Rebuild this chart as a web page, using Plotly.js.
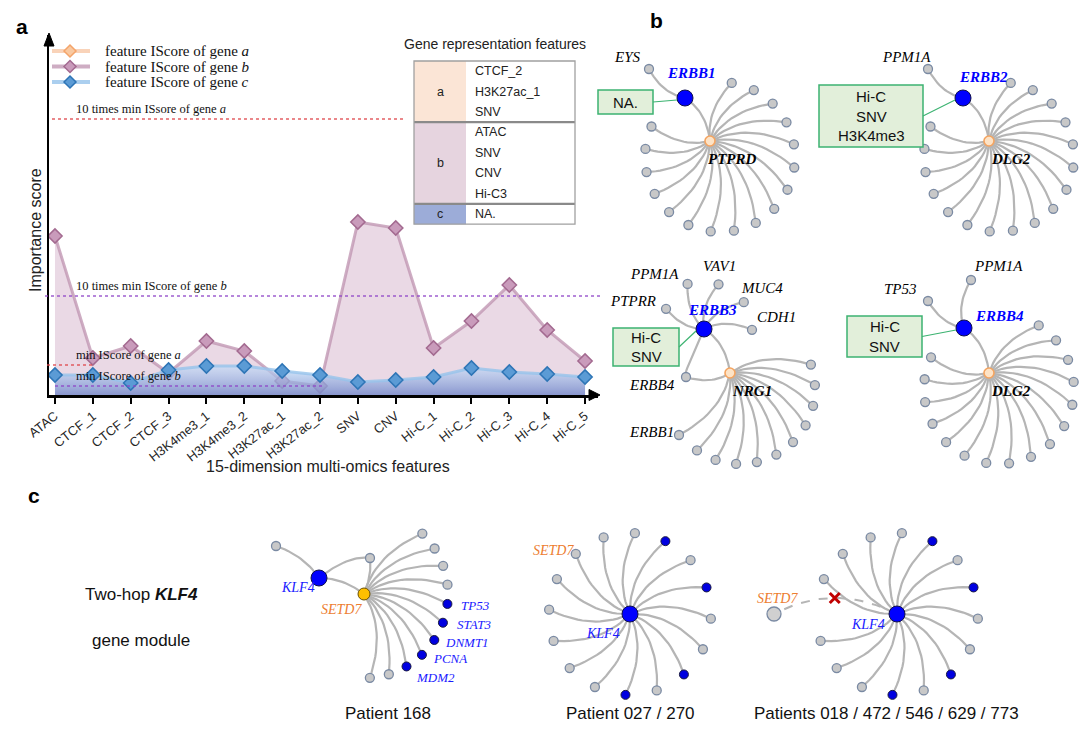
<!DOCTYPE html>
<html><head><meta charset="utf-8">
<script src="https://cdn.plot.ly/plotly-3.0.1.min.js"></script>
<style>body{margin:0;background:#fff}</style>
</head><body><div id="chart" style="width:1080px;height:733px"></div>
<script>
// ================= DATA =================
const features = ['ATAC','CTCF_1','CTCF_2','CTCF_3','H3K4me3_1','H3K4me3_2','H3K27ac_1','H3K27ac_2','SNV','CNV','Hi-C_1','Hi-C_2','Hi-C_3','Hi-C_4','Hi-C_5'];
const seriesNames = ['feature IScore of gene <i>a</i>','feature IScore of gene <i>b</i>','feature IScore of gene <i>c</i>'];
const scoreGeneB = [1.59,0.37,0.49,0.22,0.54,0.44,0.14,0.09,1.73,1.67,0.47,0.74,1.10,0.65,0.34];
const scoreGeneC = [0.20,0.20,0.12,0.25,0.29,0.29,0.24,0.20,0.13,0.15,0.18,0.27,0.23,0.21,0.18];
const minScoreA = 0.30, tenMinScoreA = 2.76, minScoreB = 0.09, tenMinScoreB = 0.99;

const groupNames = ['a','b','c'];
const groupFeatures = [['CTCF_2','H3K27ac_1','SNV'],['ATAC','SNV','CNV','Hi-C3'],['NA.']];

const bHubGenes = ['PTPRD','DLG2','NRG1','DLG2'];
const bKeyGenes = ['ERBB1','ERBB2','ERBB3','ERBB4'];
const bKeyFeatures = [['NA.'],['Hi-C','SNV','H3K4me3'],['Hi-C','SNV'],['Hi-C','SNV']];
const bKeyNeighbors = [['EYS'],['PPM1A'],['PTPRR','PPM1A','VAV1','MUC4','CDH1'],['TP53','PPM1A']];
const bHubNamedLeaves = [[],[],['ERBB4','ERBB1'],[]];
const bHubLeafCount = [17,17,10,16];

const cTitle = ['Two-hop ', 'KLF4', 'gene module'];
const cPatients = ['Patient 168','Patient 027 / 270','Patients 018 / 472 / 546 / 629 / 773'];
const cHubGene = 'KLF4', cLinkGene = 'SETD7';
const c168SetdLeaves = ['','','','','TP53','STAT3','DNMT1','PCNA','MDM2','',''];
const c027Leaves = ['','','T','','T','','','T','','T','','','','','','SETD7'];
const c018Leaves = ['','','T','','T','','','T','','T','','','','-','',''];

// ================= LAYOUT HELPERS =================
const W=1080,H=733;
const shapes=[], annotations=[], traces=[];
const serif='Liberation Serif, Times New Roman, serif', sans='Arial, Liberation Sans, sans-serif';
function txt(x,y,text,o){o=o||{};annotations.push(Object.assign({xref:'x2',yref:'y2',x:x,y:y,text:text,showarrow:false,xanchor:'center',yanchor:'middle',
  font:{family:o.family||sans,size:o.size||14,color:o.color||'#000'}},o.extra||{}));}
function rect(x0,y0,x1,y1,fill,lc,lw){shapes.push({type:'rect',xref:'x2',yref:'y2',x0:x0,y0:y0,x1:x1,y1:y1,fillcolor:fill,line:{color:lc||'rgba(0,0,0,0)',width:lw||0}});}
function seg(x0,y0,x1,y1,c,w,d){shapes.push({type:'line',xref:'x2',yref:'y2',x0:x0,y0:y0,x1:x1,y1:y1,line:{color:c,width:w,dash:d||'solid'}});}

// ================= PANEL A =================
const styleB={line:'rgba(190,145,175,0.75)',fill:'#c99bbb',edge:'#a36a90'};
const styleC={line:'rgba(150,195,235,0.8)',fill:'#5b9bd5',edge:'#2e75b6'};
const styleA={line:'rgba(248,203,173,0.85)',fill:'#f9c9a1',edge:'#f4a46a'};
traces.push({type:'scatter',x:features,y:scoreGeneB,name:seriesNames[1],mode:'lines+markers',fill:'tozeroy',showlegend:false,
  fillcolor:'rgba(205,165,192,0.42)',line:{color:styleB.line,width:3},
  marker:{symbol:'diamond',size:11,color:styleB.fill,line:{color:styleB.edge,width:1.5}}});
traces.push({type:'scatter',x:features,y:scoreGeneC,name:seriesNames[2],mode:'lines+markers',fill:'tozeroy',showlegend:false,
  fillgradient:{type:'vertical',colorscale:[[0,'rgba(120,138,202,0.85)'],[1,'rgba(190,220,250,0.6)']]},
  line:{color:styleC.line,width:3},
  marker:{symbol:'diamond',size:11,color:styleC.fill,line:{color:styleC.edge,width:1.5}}});

// legend (drawn by hand to match row spacing)
[styleA,styleB,styleC].forEach((s,i)=>{
  const y=51+i*15.5;
  seg(52,y,90,y,s.line,4);
  shapes.push({type:'path',xref:'x2',yref:'y2',path:`M 64 ${y} L 70 ${y-6} L 76 ${y} L 70 ${y+6} Z`,fillcolor:s.fill,line:{color:s.edge,width:1.5}});
  txt(103,y,seriesNames[i],{family:serif,size:15,color:'#111',extra:{xanchor:'left'}});
});

// reference lines
const refLines=[
  {v:tenMinScoreA,x0:52,x1:405,c:'#e0464a',t:'10 times min ISsore of gene <i>a</i>'},
  {v:tenMinScoreB,x0:45,x1:600,c:'#8e44c8',t:'10 times min IScore of gene <i>b</i>'},
  {v:minScoreA,x0:47,x1:92,c:'#e0464a',t:'min IScore of gene <i>a</i>'},
  {v:minScoreB,x0:55,x1:322,c:'#8e44c8',t:'min IScore of gene <i>b</i>'}];
refLines.forEach(r=>{
  shapes.push({type:'line',xref:'x2',yref:'y',x0:r.x0,x1:r.x1,y0:r.v,y1:r.v,line:{color:r.c,width:1.6,dash:'dot'},opacity:0.85});
  annotations.push({xref:'x2',yref:'y',x:74,y:r.v,text:r.t,showarrow:false,xanchor:'left',yanchor:'bottom',yshift:1,
    font:{family:serif,size:12.5,color:'#111'}});
});
// arrows of axes
shapes.push({type:'path',xref:'x2',yref:'y2',path:'M 589 389.5 L 600 395 L 589 400.5 Z',fillcolor:'#000',line:{color:'#000',width:1}});
shapes.push({type:'path',xref:'x2',yref:'y2',path:'M 44 46 L 49 33 L 54 46 Z',fillcolor:'#000',line:{color:'#000',width:1}});
// axis titles
txt(328,466,'15-dimension multi-omics features',{size:16,color:'#222'});
annotations.push({xref:'x2',yref:'y2',x:35,y:230,text:'Importance score',textangle:-90,showarrow:false,font:{family:sans,size:16,color:'#222'}});
// panel letters
txt(22,26,'<b>a</b>',{size:21});
txt(656,20,'<b>b</b>',{size:21});
txt(34,495,'<b>c</b>',{size:21});

// table
txt(495,44,'Gene representation features',{size:14,color:'#222'});
const tL=414,tM=466,tR=575,rh=20.4;
let ty=61;
const cellFill=['#fbe5d6','#e6d4df','#9cacd8'];
groupNames.forEach((g,gi)=>{
  const n=groupFeatures[gi].length, top=ty, bot=ty+n*rh;
  rect(tL,top,tM,bot,cellFill[gi]);
  rect(tM,top,tR,bot,'#fff');
  txt((tL+tM)/2,(top+bot)/2,g,{size:12.5,color:'#222'});
  groupFeatures[gi].forEach((f,k)=>txt(tM+7,top+(k+0.5)*rh,f,{size:12.5,color:'#222',extra:{xanchor:'left'}}));
  if(gi>0){seg(tL,top,tR,top,'#8a8a8a',2.2);}
  ty=bot;
});
rect(tL,61,tR,ty,'rgba(0,0,0,0)','#a0a0a0',1.3);

// ================= NETWORKS =================
function rot(v,deg){const r=deg*Math.PI/180;return [v[0]*Math.cos(r)-v[1]*Math.sin(r),v[0]*Math.sin(r)+v[1]*Math.cos(r)];}
function add(p,o){return [p[0]+o[0],p[1]+o[1]];}
function polar(p,ang,r){const a=ang*Math.PI/180;return [p[0]+r*Math.cos(a),p[1]+r*Math.sin(a)];}
function fan(hub,off,R,a0,a1,n){const c=add(hub,off),out=[];for(let i=0;i<n;i++)out.push(polar(c,a0+(a1-a0)*i/(n-1),R));return out;}
const edges={x:[],y:[]}, dashed={x:[],y:[]};
function edge(p0,p1,phi,store){store=store||edges;const d=[p1[0]-p0[0],p1[1]-p0[1]],r=rot(d,phi),c=[p0[0]+r[0]*0.5,p0[1]+r[1]*0.5];
  for(let i=0;i<=18;i++){const t=i/18;store.x.push((1-t)*(1-t)*p0[0]+2*(1-t)*t*c[0]+t*t*p1[0]);store.y.push((1-t)*(1-t)*p0[1]+2*(1-t)*t*c[1]+t*t*p1[1]);}
  store.x.push(null);store.y.push(null);}
function edgeVia(p0,c,p1,store){for(let i=0;i<=24;i++){const t=i/24;store.x.push((1-t)*(1-t)*p0[0]+2*(1-t)*t*c[0]+t*t*p1[0]);store.y.push((1-t)*(1-t)*p0[1]+2*(1-t)*t*c[1]+t*t*p1[1]);}store.x.push(null);store.y.push(null);}
const nodes={gray:[],blue:[],hubO:[],small:[],setd:[],bigGray:[]};
const PHI_B=-28, PHI_C=-28;

// panel b geometry (layout only)
const bGeo=[
 {hub:[710,141],fan:[[10,16],75,-81,204],key:[-25,-43],box:[598,90,653,114],
  nb:[[-36,-29]],nbLab:[[-22,-12]],keyLab:[6,-25]},
 {hub:[989,141],fan:[[10,16],75,-81,204],key:[-26,-43],box:[819,85,923,147],
  nb:[[-35,-29]],nbLab:[[-22,-12]],keyLab:[20,-21]},
 {hub:[730,373],fan:[[10,16],75,-19,125],key:[-26,-44],box:[613,328,679,366],
  nb:[[208,43],[250,48],[288,47],[326,48],[361,48]],nbPolar:true,nbLab:[[-33,-8],[-33,-10],[1,-18],[18,-14],[25,-13]],keyLab:[8,-19],
  named:[[-44,4],[-51,62]],namedLab:[[-34,8],[-28,-3]]},
 {hub:[989,373],fan:[[10,16],75,-58,205],key:[-25,-45],box:[847,316,922,357],
  nb:[[-36,-27],[7,-48]],nbLab:[[-28,-12],[27,-14]],keyLab:[35,-12]}
];
bGeo.forEach((g,i)=>{
  const hub=g.hub, key=add(hub,g.key);
  const lv=fan(hub,g.fan[0],g.fan[1],g.fan[2],g.fan[3],bHubLeafCount[i]);
  lv.forEach(p=>{edge(hub,p,PHI_B);nodes.gray.push(p);});
  edge(key,hub,PHI_B);
  bKeyNeighbors[i].forEach((nm,k)=>{
    const p=g.nbPolar?polar(key,g.nb[k][0],g.nb[k][1]):add(key,g.nb[k]);
    edge(key,p,PHI_B);nodes.gray.push(p);
    txt(p[0]+g.nbLab[k][0],p[1]+g.nbLab[k][1],'<i>'+nm+'</i>',{family:serif,size:15});
  });
  bHubNamedLeaves[i].forEach((nm,k)=>{
    const p=add(hub,g.named[k]);
    edge(hub,p,PHI_B);nodes.gray.push(p);
    if(nm==='ERBB4'){edgeVia(key,[key[0]-26,key[1]+58],p,edges);}
    txt(p[0]+g.namedLab[k][0],p[1]+g.namedLab[k][1],'<i>'+nm+'</i>',{family:serif,size:15});
  });
  nodes.hubO.push(hub);nodes.blue.push(key);
  txt(hub[0]+22,hub[1]+18,'<b><i>'+bHubGenes[i]+'</i></b>',{family:serif,size:15});
  txt(key[0]+g.keyLab[0],key[1]+g.keyLab[1],'<b><i>'+bKeyGenes[i]+'</i></b>',{family:serif,size:15,color:'#0000ff'});
  const b=g.box;
  rect(b[0],b[1],b[2],b[3],'#e2efda','#3cb371',1.5);
  const f=bKeyFeatures[i], lh=19.5, cy=(b[1]+b[3])/2;
  f.forEach((t,k)=>txt((b[0]+b[2])/2,cy+(k-(f.length-1)/2)*lh,t,{size:15,color:'#111'}));
  seg(b[2],cy,key[0]-8,key[1]+2,'#3cb371',1.2);
});

// panel c
txt(141,594,cTitle[0]+'<b><i>'+cTitle[1]+'</i></b>',{size:17,color:'#111'});
txt(141,640,cTitle[2],{size:17,color:'#111'});
// patient 168
(function(){
  const klf=[319,578], setd=[364,594];
  const leafA=[276,546], shared=[370,558];
  edge(klf,leafA,20);edgeVia(klf,[348,555],shared,edges);edge(klf,setd,-20);
  edgeVia(setd,[372,575],shared,edges);
  nodes.gray.push(leafA,shared);
  const lv=fan(setd,[0,0],84,-46,86,c168SetdLeaves.length);
  const labOff=[[28,2],[31,2],[33,2],[28,4],[29,11]];let bi=0;
  lv.forEach((p,k)=>{edge(setd,p,PHI_C);const nm=c168SetdLeaves[k];
    if(nm){nodes.small.push(p);txt(p[0]+labOff[bi][0],p[1]+labOff[bi][1],'<i>'+nm+'</i>',{family:serif,size:13,color:'#1a1aff'});bi++;}
    else nodes.gray.push(p);});
  nodes.blue.push(klf);nodes.setd.push(setd);
  txt(klf[0]-21,klf[1]+9,'<i>'+cHubGene+'</i>',{family:serif,size:14,color:'#1a1aff'});
  txt(setd[0]-23,setd[1]+15,'<i>'+cLinkGene+'</i>',{family:serif,size:14,color:'#ed7d31'});
  txt(388,713,cPatients[0],{size:17,color:'#111'});
})();
function pinwheel(center,leaves){
  const n=leaves.length;
  leaves.forEach((s,k)=>{
    if(s==='-')return;
    const p=polar(center,-109+337*k/(n-1),81);
    edge(center,p,PHI_C);
    if(s==='T')nodes.small.push(p);else nodes.gray.push(p);
    if(s===cLinkGene)txt(p[0]-22,p[1]-3,'<i>'+cLinkGene+'</i>',{family:serif,size:14,color:'#ed7d31'});
  });
  nodes.blue.push(center);
}
pinwheel([630,614],c027Leaves);
txt(603,633,'<i>'+cHubGene+'</i>',{family:serif,size:14,color:'#1a1aff'});
txt(630,713,cPatients[1],{size:17,color:'#111'});
pinwheel([897,614],c018Leaves);
const setdLost=[774,614];
edgeVia([897,614],[834,582],setdLost,dashed);
nodes.bigGray.push(setdLost);
txt(777,598,'<i>'+cLinkGene+'</i>',{family:serif,size:14,color:'#ed7d31'});
txt(868,624,'<i>'+cHubGene+'</i>',{family:serif,size:14,color:'#1a1aff'});
txt(886,713,cPatients[2],{size:17,color:'#111'});

traces.push({type:'scatter',mode:'lines',x:edges.x,y:edges.y,xaxis:'x2',yaxis:'y2',showlegend:false,hoverinfo:'skip',
  line:{color:'#b5b5b5',width:2.2}});
traces.push({type:'scatter',mode:'lines',x:dashed.x,y:dashed.y,xaxis:'x2',yaxis:'y2',showlegend:false,hoverinfo:'skip',
  line:{color:'#b5b5b5',width:2,dash:'dash'}});
function nodeTrace(list,size,fill,lc,lw,sym){traces.push({type:'scatter',mode:'markers',x:list.map(p=>p[0]),y:list.map(p=>p[1]),xaxis:'x2',yaxis:'y2',
  showlegend:false,hoverinfo:'skip',marker:{size:size,color:fill,symbol:sym||'circle',line:{color:lc,width:lw}}});}
nodeTrace(nodes.gray,9,'#c8c8c8','#7a8aa3',1.3);
nodeTrace(nodes.bigGray,14,'#d0d0d0','#7a8aa3',1.3);
nodeTrace(nodes.small,9,'#0000e0','#1a1a40',1);
nodeTrace(nodes.hubO,10,'#fde3c6','#f4a460',1.6);
nodeTrace(nodes.setd,12,'#ffc000','#6b5000',1);
nodeTrace(nodes.blue,16,'#0000ff','#10104a',1);
// red cross on the lost link (midpoint of the dashed curve)
const mid=Math.floor(dashed.x.length/2)-1;
traces.push({type:'scatter',mode:'markers',x:[dashed.x[mid]],y:[dashed.y[mid]],xaxis:'x2',yaxis:'y2',showlegend:false,hoverinfo:'skip',
  marker:{symbol:'x-thin',size:10,line:{color:'#c00000',width:3}}});

const layout={width:W,height:H,margin:{l:0,r:0,t:0,b:0},paper_bgcolor:'#fff',plot_bgcolor:'rgba(0,0,0,0)',
  showlegend:false,
  xaxis:{domain:[49/W,598/W],range:[-0.158,14.342],showline:true,linewidth:2.5,linecolor:'#000',ticks:'outside',ticklen:6,tickwidth:2,tickcolor:'#000',
    tickangle:-38,tickfont:{family:sans,size:13,color:'#262626'},showgrid:false,zeroline:false,fixedrange:true,anchor:'y'},
  yaxis:{domain:[(H-395)/H,(H-35)/H],range:[0,3.6],showline:true,linewidth:2.5,linecolor:'#000',showticklabels:false,ticks:'',showgrid:false,zeroline:false,fixedrange:true,anchor:'x'},
  xaxis2:{domain:[0,1],range:[0,W],visible:false,fixedrange:true,anchor:'y2'},
  yaxis2:{domain:[0,1],range:[H,0],visible:false,fixedrange:true,anchor:'x2'},
  shapes:shapes,annotations:annotations};
Plotly.newPlot('chart',traces,layout,{displayModeBar:false,staticPlot:true});
</script></body></html>
